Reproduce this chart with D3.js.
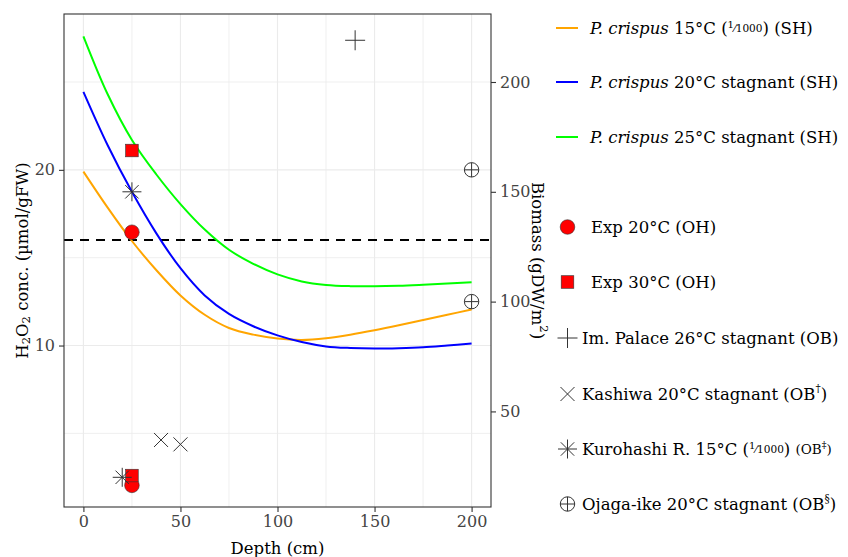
<!DOCTYPE html>
<html>
<head>
<meta charset="utf-8">
<script src="https://cdn.jsdelivr.net/npm/d3@7"></script>
<style>
  body { margin: 0; background: #fff; }
  svg { display: block; font-family: 'DejaVu Serif', serif; }
</style>
</head>
<body>
<div id="root"></div>
<script>
// ---------------------------------------------------------------- data
const depth = [0, 12.5, 25, 37.5, 50, 62.5, 75, 87.5, 100, 112.5, 125, 137.5, 150, 162.5, 175, 187.5, 200];
// simulated H2O2 (umol/gFW)
const crispus15 = [19.9, 17.85, 15.95, 14.3, 12.85, 11.75, 11.0, 10.62, 10.4, 10.32, 10.42, 10.62, 10.87, 11.15, 11.45, 11.75, 12.05];
const crispus20 = [24.44, 21.4, 18.75, 16.4, 14.4, 12.85, 11.8, 11.1, 10.58, 10.2, 9.95, 9.86, 9.83, 9.85, 9.9, 10.0, 10.11];
const crispus25 = [27.6, 24.3, 21.7, 19.75, 18.05, 16.6, 15.45, 14.65, 14.05, 13.65, 13.45, 13.38, 13.37, 13.4, 13.46, 13.53, 13.6];

// experiments (H2O2 units)
const exp20Depth = [25, 25];
const exp20 = [16.45, 2.04];
const exp30Depth = [25, 25];
const exp30 = [21.1, 2.6];

// observed biomass (gDW/m2)
const palaceDepth = [140];
const palaceBiomass = [219];
const kashiwaDepth = [40, 50];
const kashiwaBiomass = [37, 35];
const kurohashiDepth = [25, 20];
const kurohashiBiomass = [150, 20];
const ojagaDepth = [200, 200];
const ojagaBiomass = [160, 100];

const threshold = 16;
const biomassPerH2O2 = 8;

const xTicks = [0, 50, 100, 150, 200];
const xMinor = [25, 75, 125, 175];
const yTicks = [10, 20];
const yMinor = [5, 15, 25];
const bTicks = [50, 100, 150, 200];

// ---------------------------------------------------------------- layout
const W = 848, H = 557;
const panel = { left: 64, right: 491, top: 14, bottom: 507 };

const svg = d3.select('#root')
  .append('svg')
  .attr('width', W)
  .attr('height', H)
  .attr('viewBox', [0, 0, W, H]);

const xScale = d3.scaleLinear().domain([-10, 210]).range([panel.left, panel.right]);
const yScale = d3.scaleLinear().domain([0.81, 28.87]).range([panel.bottom, panel.top]);
const bScale = d3.scaleLinear()
  .domain(yScale.domain().map(d => d * biomassPerH2O2))
  .range([panel.bottom, panel.top]);

// grid
const grid = svg.append('g').attr('class', 'grid').attr('stroke', '#ebebeb');
grid.selectAll('.vx')
  .data(xMinor.concat(xTicks))
  .enter().append('line')
  .attr('x1', d => xScale(d)).attr('x2', d => xScale(d))
  .attr('y1', panel.top).attr('y2', panel.bottom)
  .attr('stroke-width', d => xTicks.includes(d) ? 1.1 : 0.8);
grid.selectAll('.hy')
  .data(yMinor.concat(yTicks))
  .enter().append('line')
  .attr('y1', d => yScale(d)).attr('y2', d => yScale(d))
  .attr('x1', panel.left).attr('x2', panel.right)
  .attr('stroke-width', d => yTicks.includes(d) ? 1.1 : 0.8);

// threshold line
svg.append('line')
  .attr('x1', panel.left).attr('x2', panel.right)
  .attr('y1', yScale(threshold)).attr('y2', yScale(threshold))
  .attr('stroke', '#000')
  .attr('stroke-width', 2)
  .attr('stroke-dasharray', '9,7');

// curves
const line = d3.line()
  .x((d, i) => xScale(depth[i]))
  .y(d => yScale(d))
  .curve(d3.curveCatmullRom.alpha(0.5));

const curves = [
  { values: crispus15, color: '#ffa500' },
  { values: crispus20, color: '#0000ff' },
  { values: crispus25, color: '#00ff00' }
];
svg.selectAll('.curve')
  .data(curves)
  .enter().append('path')
  .attr('class', 'curve')
  .attr('d', d => line(d.values))
  .attr('fill', 'none')
  .attr('stroke', d => d.color)
  .attr('stroke-width', 2);

// ---------------------------------------------------------------- symbols
const ink = '#333';
const symbols = {
  circle(g) {
    g.append('circle').attr('r', 7.3).attr('fill', '#ff0000').attr('stroke', ink).attr('stroke-width', 0.6);
  },
  square(g) {
    g.append('rect').attr('x', -6.3).attr('y', -6.3).attr('width', 12.6).attr('height', 12.6)
      .attr('fill', '#ff0000').attr('stroke', ink).attr('stroke-width', 0.6);
  },
  plus(g) {
    g.append('path').attr('d', 'M-10,0H10M0,-10V10').attr('stroke', ink).attr('stroke-width', 1).attr('fill', 'none');
  },
  cross(g) {
    g.append('path').attr('d', 'M-7,-7L7,7M-7,7L7,-7').attr('stroke', ink).attr('stroke-width', 1).attr('fill', 'none');
  },
  asterisk(g) {
    g.append('path').attr('d', 'M-9.5,0H9.5M0,-9.5V9.5M-6.7,-6.7L6.7,6.7M-6.7,6.7L6.7,-6.7')
      .attr('stroke', ink).attr('stroke-width', 1).attr('fill', 'none');
  },
  circlePlus(g) {
    g.append('circle').attr('r', 7.2).attr('fill', 'none').attr('stroke', ink).attr('stroke-width', 1);
    g.append('path').attr('d', 'M-7.2,0H7.2M0,-7.2V7.2').attr('stroke', ink).attr('stroke-width', 1);
  }
};

function drawPoints(xs, ys, scale, shape) {
  xs.forEach((x, i) => {
    const g = svg.append('g').attr('transform', `translate(${xScale(x)},${scale(ys[i])})`);
    symbols[shape](g);
  });
}

drawPoints(exp20Depth, exp20, yScale, 'circle');
drawPoints(exp30Depth, exp30, yScale, 'square');
drawPoints(palaceDepth, palaceBiomass, bScale, 'plus');
drawPoints(kashiwaDepth, kashiwaBiomass, bScale, 'cross');
drawPoints(kurohashiDepth, kurohashiBiomass, bScale, 'asterisk');
drawPoints(ojagaDepth, ojagaBiomass, bScale, 'circlePlus');

// panel border
svg.append('rect')
  .attr('x', panel.left).attr('y', panel.top)
  .attr('width', panel.right - panel.left).attr('height', panel.bottom - panel.top)
  .attr('fill', 'none').attr('stroke', ink).attr('stroke-width', 1.1);

// ---------------------------------------------------------------- axes
function styleAxis(g) {
  g.select('.domain').remove();
  g.selectAll('.tick line').attr('stroke', ink).attr('stroke-width', 1.1);
  g.selectAll('.tick text').attr('fill', '#444').style('font-size', '16px')
    .style('font-family', "'DejaVu Serif', serif");
}

svg.append('g')
  .attr('transform', `translate(0,${panel.bottom})`)
  .call(d3.axisBottom(xScale).tickValues(xTicks).tickSize(5).tickPadding(4))
  .call(styleAxis);

svg.append('g')
  .attr('transform', `translate(${panel.left},0)`)
  .call(d3.axisLeft(yScale).tickValues(yTicks).tickSize(5).tickPadding(4))
  .call(styleAxis);

svg.append('g')
  .attr('transform', `translate(${panel.right},0)`)
  .call(d3.axisRight(bScale).tickValues(bTicks).tickSize(5).tickPadding(4))
  .call(styleAxis);

// rich text helper: segments {t, italic, size, shift}
function rich(text, segs) {
  let cur = 0;
  segs.forEach(s => {
    const shift = s.shift || 0;
    const ts = text.append('tspan').text(s.t).attr('dy', shift - cur);
    if (s.italic) ts.style('font-style', 'italic');
    if (s.size) ts.style('font-size', s.size + 'px');
    cur = shift;
  });
  return text;
}

const midY = (panel.top + panel.bottom) / 2;

// axis titles
svg.append('text')
  .attr('x', (panel.left + panel.right) / 2)
  .attr('y', 548)
  .attr('text-anchor', 'middle')
  .attr('dominant-baseline', 'central')
  .style('font-size', '16.5px')
  .text('Depth (cm)');

rich(svg.append('text')
  .attr('transform', `translate(22,${midY}) rotate(-90)`)
  .attr('text-anchor', 'middle')
  .attr('dominant-baseline', 'central')
  .style('font-size', '16.5px'), [
  { t: 'H' }, { t: '2', size: 11.5, shift: 4 }, { t: 'O' }, { t: '2', size: 11.5, shift: 4 },
  { t: ' conc. (µmol/gFW)' }
]);

rich(svg.append('text')
  .attr('transform', `translate(538,${midY}) rotate(90)`)
  .attr('text-anchor', 'middle')
  .attr('dominant-baseline', 'central')
  .style('font-size', '16.5px'), [
  { t: 'Biomass (gDW/m' }, { t: '2', size: 11.5, shift: -6 }, { t: ')' }
]);

// ---------------------------------------------------------------- legend
const frac = [{ t: '1', size: 10, shift: -4 }, { t: '⁄1000', size: 10.5 }];
const legendItems = [
  { y: 28, key: 'line', color: '#ffa500', tx: 590,
    segs: [{ t: 'P. crispus', italic: true }, { t: ' 15°C (' }].concat(frac, [{ t: ') (SH)' }]) },
  { y: 82, key: 'line', color: '#0000ff', tx: 590,
    segs: [{ t: 'P. crispus', italic: true }, { t: ' 20°C stagnant (SH)' }] },
  { y: 137, key: 'line', color: '#00ff00', tx: 590,
    segs: [{ t: 'P. crispus', italic: true }, { t: ' 25°C stagnant (SH)' }] },
  { y: 227, key: 'circle', tx: 591, segs: [{ t: 'Exp 20°C (OH)' }] },
  { y: 282, key: 'square', tx: 591, segs: [{ t: 'Exp 30°C (OH)' }] },
  { y: 338, key: 'plus', tx: 582, segs: [{ t: 'Im. Palace 26°C stagnant (OB)' }] },
  { y: 394, key: 'cross', tx: 582,
    segs: [{ t: 'Kashiwa 20°C stagnant (OB' }, { t: '†', size: 10.5, shift: -6 }, { t: ')' }] },
  { y: 449, key: 'asterisk', tx: 582,
    segs: [{ t: 'Kurohashi R. 15°C (' }].concat(frac, [{ t: ') ' }, { t: '(OB', size: 13.5 },
      { t: '‡', size: 9.5, shift: -5 }, { t: ')', size: 13.5 }]) },
  { y: 504, key: 'circlePlus', tx: 582,
    segs: [{ t: 'Ojaga-ike 20°C stagnant (OB' }, { t: '§', size: 10.5, shift: -6 }, { t: ')' }] }
];

const legend = svg.append('g').attr('class', 'legend');
legendItems.forEach(item => {
  if (item.key === 'line') {
    legend.append('line')
      .attr('x1', 556).attr('x2', 578)
      .attr('y1', item.y).attr('y2', item.y)
      .attr('stroke', item.color).attr('stroke-width', 2);
  } else {
    const g = legend.append('g').attr('transform', `translate(567.5,${item.y})`);
    symbols[item.key](g);
  }
  rich(legend.append('text')
    .attr('x', item.tx)
    .attr('y', item.y)
    .attr('dominant-baseline', 'central')
    .style('font-size', '16.5px'), item.segs);
});
</script>
</body>
</html>
